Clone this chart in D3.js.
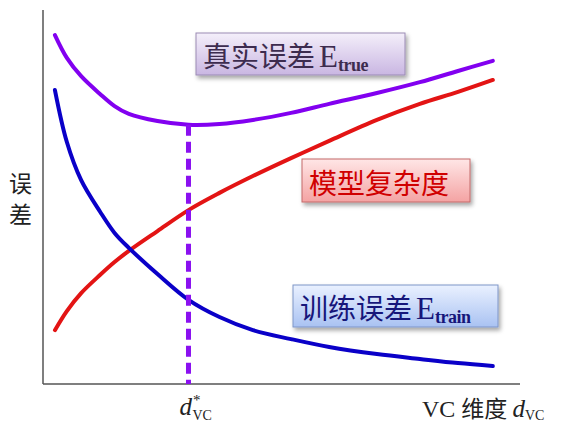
<!doctype html>
<html>
<head>
  <meta charset="utf-8">
  <script src="https://d3js.org/d3.v7.min.js"></script>
  <style>
    body { margin: 0; background: #fff; }
  </style>
</head>
<body>
  <script>

    // VC dimension (horizontal position, 0-100)
    var dvc = [2.5, 5, 8, 12, 15, 18, 24, 30.5, 37, 44, 52, 60, 70, 79, 87, 94.3];

    // error levels (0-100)
    var trueError  = [93.3, 87.2, 82.3, 77.5, 74.3, 72.2, 70.3, 69.3, 69.5, 70.6, 72.5, 74.9, 77.8, 80.7, 83.7, 86.4];
    var trainError = [78.6, 64.7, 54.5, 46.0, 40.4, 36.4, 29.4, 22.5, 17.9, 14.4, 12.0, 9.9, 8.0, 6.7, 5.6, 4.8];
    var complexity = [14.4, 19.5, 24.3, 29.2, 32.6, 35.6, 40.9, 46.5, 51.1, 55.6, 60.4, 65.0, 70.6, 74.9, 78.1, 81.3];

    // best VC dimension (minimum of the true error)
    var bestDvc = 30.5;
    var bestErr = 69.3;

    var width = 571, height = 433;

    var svg = d3.select("body")
                .append("svg")
                .attr("width", width)
                .attr("height", height);

    var x = d3.scaleLinear().domain([0, 100]).range([43, 520]);
    var y = d3.scaleLinear().domain([0, 100]).range([384, 10]);

    var defs = svg.append("defs");

    // gradients for the label boxes
    function gradient(id, top, bottom) {
      var g = defs.append("linearGradient")
          .attr("id", id)
          .attr("x1", 0).attr("y1", 0)
          .attr("x2", 0).attr("y2", 1);
      g.append("stop").attr("offset", "0%").attr("stop-color", top);
      g.append("stop").attr("offset", "100%").attr("stop-color", bottom);
    }
    gradient("gPurple", "#f4effa", "#c9b6e2");
    gradient("gRed", "#ffe6e6", "#f4a3a3");
    gradient("gBlue", "#eaf1ff", "#a9c2f2");

    var shadow = defs.append("filter").attr("id", "shadow")
        .attr("x", "-10%").attr("y", "-10%")
        .attr("width", "130%").attr("height", "140%");
    shadow.append("feDropShadow")
        .attr("dx", 2).attr("dy", 3)
        .attr("stdDeviation", 2)
        .attr("flood-color", "#000")
        .attr("flood-opacity", 0.35);

    // axes (plain L shape, no ticks)
    svg.append("line")
        .attr("x1", x(0)).attr("y1", y(100))
        .attr("x2", x(0)).attr("y2", y(0))
        .attr("stroke", "#555").attr("stroke-width", 1.5);
    svg.append("line")
        .attr("x1", x(0)).attr("y1", y(0))
        .attr("x2", x(100)).attr("y2", y(0))
        .attr("stroke", "#555").attr("stroke-width", 1.5);

    var line = d3.line()
        .x(function (d) { return x(d[0]); })
        .y(function (d) { return y(d[1]); })
        .curve(d3.curveCatmullRom.alpha(0.5));

    function curve(values, color) {
      svg.append("path")
          .datum(d3.zip(dvc, values))
          .attr("d", line)
          .attr("fill", "none")
          .attr("stroke", color)
          .attr("stroke-width", 4)
          .attr("stroke-linecap", "round");
    }

    curve(complexity, "#e31414");
    curve(trainError, "#0a00c8");
    curve(trueError, "#8200f0");

    // dashed line at the best dvc
    svg.append("line")
        .attr("x1", x(bestDvc)).attr("y1", y(bestErr))
        .attr("x2", x(bestDvc)).attr("y2", y(0))
        .attr("stroke", "#8a10f0")
        .attr("stroke-width", 5)
        .attr("stroke-dasharray", "11,6");

    // label boxes
    function label(bx, by, bw, bh, fill, stroke, color, main, sub, subSize) {
      svg.append("rect")
          .attr("x", bx).attr("y", by)
          .attr("width", bw).attr("height", bh)
          .attr("fill", "url(#" + fill + ")")
          .attr("stroke", stroke)
          .attr("stroke-width", 1)
          .attr("filter", "url(#shadow)");
      var t = svg.append("text")
          .attr("x", bx + 7).attr("y", by + bh - 8)
          .attr("fill", color)
          .attr("font-family", "'Noto Sans CJK SC'")
          .attr("font-size", 28)
          .text(main);
      if (sub) {
        t.append("tspan")
            .attr("font-family", "'Liberation Serif'")
            .attr("font-size", 31)
            .attr("dx", 4)
            .text("E");
        t.append("tspan")
            .attr("font-family", "'Liberation Serif'")
            .attr("font-weight", "bold")
            .attr("font-size", subSize)
            .attr("dy", 4)
            .attr("letter-spacing", -0.5)
            .text(sub);
      }
    }

    label(196, 33, 209, 42, "gPurple", "#9b8bb4", "#3d2c4f", "真实误差", "true", 18);
    label(302, 159, 168, 43, "gRed", "#c46a6a", "#d00000", "模型复杂度", null, 0);
    label(293, 285, 205, 42, "gBlue", "#7f95c8", "#16167a", "训练误差", "train", 18);

    // y axis title, stacked vertically
    svg.append("text")
        .attr("x", 9).attr("y", 192)
        .attr("font-family", "'Noto Sans CJK SC'")
        .attr("font-size", 23)
        .attr("fill", "#222")
        .text("误");
    svg.append("text")
        .attr("x", 9).attr("y", 223)
        .attr("font-family", "'Noto Sans CJK SC'")
        .attr("font-size", 23)
        .attr("fill", "#222")
        .text("差");

    // d*_VC under the dashed line
    var dStar = svg.append("text")
        .attr("x", x(bestDvc) - 9).attr("y", 415)
        .attr("font-family", "'Liberation Serif'")
        .attr("fill", "#222");
    dStar.append("tspan").attr("font-size", 25).attr("font-style", "italic").text("d");
    dStar.append("tspan").attr("font-size", 15).attr("dy", -10).attr("dx", 1).text("*");
    dStar.append("tspan").attr("font-size", 14).attr("x", x(bestDvc) + 4).attr("dy", 15).text("VC");

    // x axis title
    var xTitle = svg.append("text")
        .attr("x", 422).attr("y", 417)
        .attr("fill", "#222");
    xTitle.append("tspan").attr("font-family", "'Liberation Serif'").attr("font-size", 24).text("VC ");
    xTitle.append("tspan").attr("font-family", "'Noto Sans CJK SC'").attr("font-size", 23).text("维度 ");
    xTitle.append("tspan").attr("font-family", "'Liberation Serif'").attr("font-size", 25).attr("font-style", "italic").text("d");
    xTitle.append("tspan").attr("font-family", "'Liberation Serif'").attr("font-size", 14).attr("dy", 3).text("VC");

  </script>
</body>
</html>
